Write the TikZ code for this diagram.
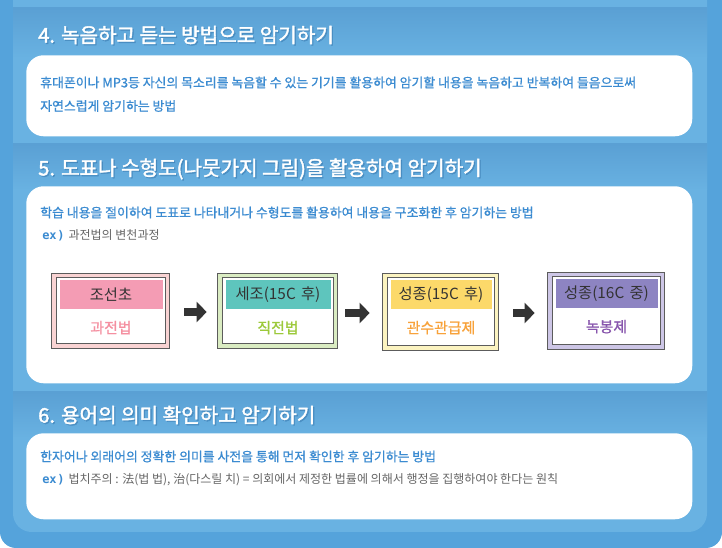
\documentclass[tikz,border=0pt]{standalone}
\usepackage{fontspec}
\setmainfont{Noto Sans CJK KR}
\newfontfamily\krmed[FakeBold=0.9]{Noto Sans CJK KR}
\newfontfamily\krhdr[FakeBold=1.9]{Noto Sans CJK KR}
\newfontfamily\monob{DejaVu Sans Mono}
\usetikzlibrary{arrows.meta,calc}
\definecolor{outerblue}{HTML}{55A3DB}
\definecolor{panelblue}{HTML}{69B2E2}
\definecolor{bandtop}{HTML}{5AA0D4}
\definecolor{bodyblue}{HTML}{3B8BD1}
\definecolor{graytxt}{HTML}{666666}
\definecolor{darktxt}{HTML}{333333}
\definecolor{hdrshadow}{HTML}{2F6FA6}
\definecolor{pinkband}{HTML}{F49CB4}
\definecolor{pinkframe}{HTML}{F9D3D3}
\definecolor{pinksub}{HTML}{F58FA0}
\definecolor{tealband}{HTML}{5EC5BD}
\definecolor{greenframe}{HTML}{DAECC2}
\definecolor{greensub}{HTML}{9CC93A}
\definecolor{yellowband}{HTML}{FCD96A}
\definecolor{yellowframe}{HTML}{FBF3C0}
\definecolor{orangesub}{HTML}{F8A23A}
\definecolor{purpleband}{HTML}{8D84C2}
\definecolor{purpleframe}{HTML}{CDC6E6}
\definecolor{purplesub}{HTML}{8856AD}
\definecolor{arrowgray}{HTML}{333333}
\tikzset{
  hdr/.style={anchor=west,inner sep=0pt,text=white,font=\krhdr\fontsize{15.1}{17}\selectfont},
  hdrsh/.style={hdr,text=hdrshadow,opacity=0.4},
  body/.style={anchor=west,inner sep=0pt,text=bodyblue,font=\krmed\fontsize{9.65}{11}\selectfont},
  exline/.style={anchor=west,inner sep=0pt,text=graytxt,font=\fontsize{9}{11}\selectfont},
  card/.style={fill=white,rounded corners=13pt,inner sep=0pt,anchor=north west},
  histframe/.style={draw=darktxt!80,line width=0.5pt,inner sep=0pt},
  histband/.style={inner sep=0pt,text=darktxt,font=\fontsize{11.5}{13}\selectfont},
  histsub/.style={inner sep=0pt,font=\krmed\fontsize{11.2}{13}\selectfont},
  blockarr/.style={draw=arrowgray,line width=6pt,-{Triangle[length=7.5pt,width=15pt]}},
}
\newcommand{\exmark}{{\monob\bfseries\fontsize{9}{11}\selectfont\color{bodyblue}ex\kern0.5pt)}\hspace{3pt}}
\newcommand{\histbox}[9]{%
  \node[histframe,fill=#6,minimum width=#4*0.75pt,minimum height=#5*0.75pt] (#1) at (#2,#3) {};
  \filldraw[fill=white,draw=darktxt!80,line width=0.5pt] ($(#1.north west)+(6,5)$) rectangle ($(#1.south east)+(-4,-5)$);
  \node[histband,fill=#7,minimum width=(#4-15)*0.75pt,minimum height=29*0.75pt] (#1t) at ($(#1.north)+(1,22)$) {#8};
  \node[histsub] (#1s) at ($(#1.north)+(1,55)$) {#9};
}
\begin{document}
\begin{tikzpicture}[x=0.75pt,y=-0.75pt]
\useasboundingbox (0,0) rectangle (722,548);
\fill[white] (0,0) rectangle (722,548);
\fill[outerblue,rounded corners=12pt] (0,-40) rectangle (722,548);
\fill[panelblue,rounded corners=14pt] (13,-40) rectangle (707,532);
% header bands
\shade[top color=bandtop,bottom color=panelblue] (13,8) rectangle (707,58);
\shade[top color=bandtop,bottom color=panelblue] (13,144) rectangle (707,190);
\shade[top color=bandtop,bottom color=panelblue] (13,392) rectangle (707,438);
% cards
\node[card,minimum width=666*0.75pt,minimum height=81*0.75pt] (c4) at (26,55) {};
\node[card,minimum width=666*0.75pt,minimum height=197*0.75pt] (c5) at (26,186) {};
\node[card,minimum width=666*0.75pt,minimum height=86*0.75pt] (c6) at (26,433) {};
% headers
\node[hdrsh] (h4s) at (39.3,36.3) {4. 녹음하고 듣는 방법으로 암기하기};
\node[hdr] (h4) at (38,35) {4. 녹음하고 듣는 방법으로 암기하기};
\node[hdrsh] (h5s) at (39.3,170.3) {5. 도표나 수형도(나뭇가지 그림)을 활용하여 암기하기};
\node[hdr] (h5) at (38,169) {5. 도표나 수형도(나뭇가지 그림)을 활용하여 암기하기};
\node[hdrsh] (h6s) at (39.3,416.3) {6. 용어의 의미 확인하고 암기하기};
\node[hdr] (h6) at (38,415) {6. 용어의 의미 확인하고 암기하기};
% section 4 text
\node[body] (p4a) at (40,82.5) {휴대폰이나 MP3등 자신의 목소리를 녹음할 수 있는 기기를 활용하여 암기할 내용을 녹음하고 반복하여 들음으로써};
\node[body] (p4b) at (40,106) {자연스럽게 암기하는 방법};
% section 5 text
\node[body] (p5a) at (40,212.5) {학습 내용을 절이하여 도표로 나타내거나 수형도를 활용하여 내용을 구조화한 후 암기하는 방법};
\node[exline] (p5b) at (42,235.5) {\exmark 과전법의 변천과정};
% section 6 text
\node[body] (p6a) at (40,456.5) {한자어나 외래어의 정확한 의미를 사전을 통해 먼저 확인한 후 암기하는 방법};
\node[exline] (p6b) at (42,479.5) {\exmark 법치주의 : 法(법 법), 治(다스릴 치) = 의회에서 제정한 법률에 의해서 행정을 집행하여야 한다는 원칙};
% history boxes
\histbox{b1}{110}{310.5}{118}{75}{pinkframe}{pinkband}{조선초}{\color{pinksub}과전법}
\histbox{b2}{277}{310.5}{120}{75}{greenframe}{tealband}{세조(15C\hspace{4pt}후)}{\color{greensub}직전법}
\histbox{b3}{440}{311.5}{116}{77}{yellowframe}{yellowband}{성종(15C\hspace{4pt}후)}{\color{orangesub}관수관급제}
\histbox{b4}{605.5}{310.5}{117}{77}{purpleframe}{purpleband}{성종(16C\hspace{4pt}중)}{\color{purplesub}녹봉제}
% arrows
\draw[blockarr,shorten <=15*0.75pt,shorten >=10*0.75pt] (b1.east |- 0,312) -- (b2.west |- 0,312);
\draw[blockarr,shorten <=8*0.75pt,shorten >=12*0.75pt] (b2.east |- 0,313) -- (b3.west |- 0,313);
\draw[blockarr,shorten <=15*0.75pt,shorten >=12*0.75pt] (b3.east |- 0,313) -- (b4.west |- 0,313);
\end{tikzpicture}
\end{document}
